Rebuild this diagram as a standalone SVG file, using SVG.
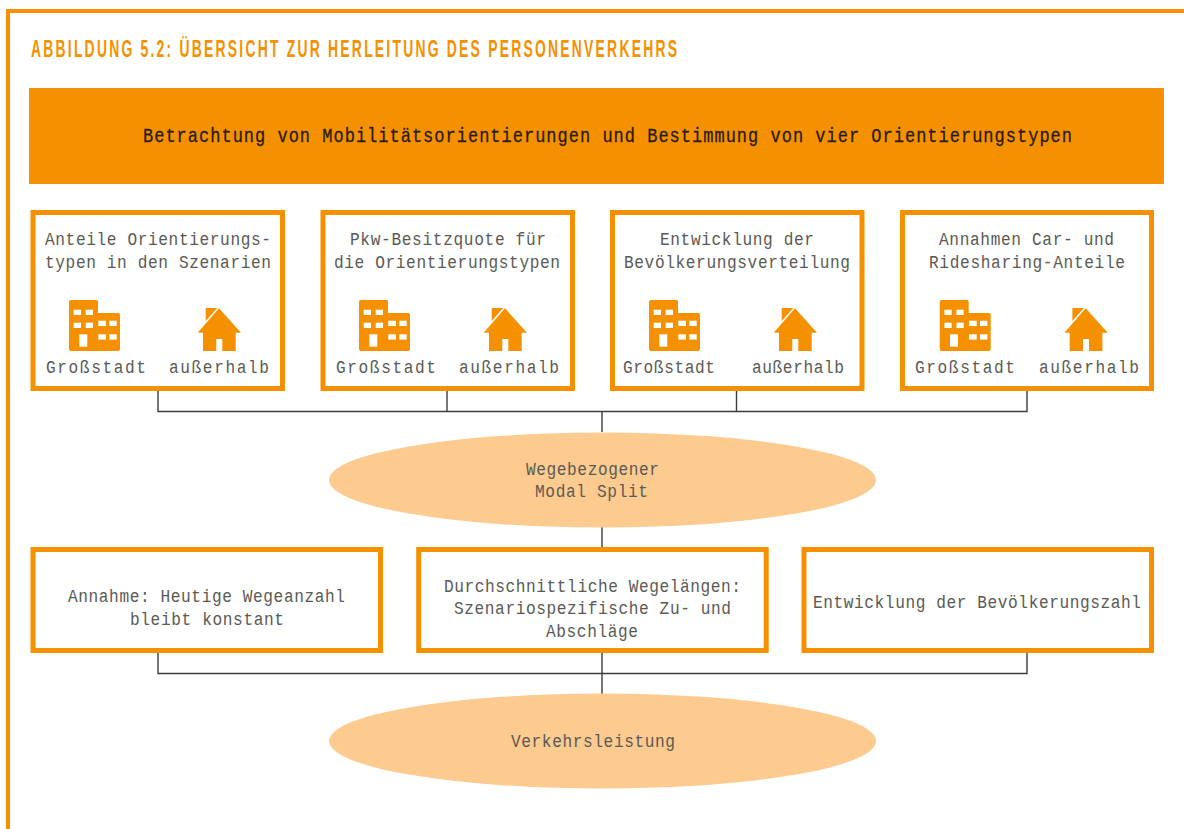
<svg xmlns="http://www.w3.org/2000/svg" width="1184" height="829" viewBox="0 0 1184 829">
<style>
.box{fill:#fff;stroke:#f59100;stroke-width:5}
.ell{fill:#fdcb8f}
.t{font-family:"Liberation Mono",monospace;font-size:19px;fill:#5a5a54;transform:scale(.85,1)}
.b{font-family:"Liberation Mono",monospace;font-size:20px;fill:#2a1c08;stroke:#2a1c08;stroke-width:.3;transform:scale(.85,1)}
.title{font-family:"Liberation Sans",Arial,sans-serif;font-size:24px;font-weight:700;fill:#f59100;transform:scale(.58,1)}
.c{fill:none;stroke:#3c3c3c;stroke-width:1.4}
.o{fill:#f59100}
</style>
<defs>
<g id="city"><path class="o" d="M71 300H96.500Q98 300 98 302V313H118.500Q120 313 120 315V349Q120 351 118 351H71Q69 351 69 349V302Q69 300 71 300Z"/>
<g fill="#fff"><rect x="73.700" y="309.700" width="7.300" height="5.300"/><rect x="85.700" y="309.700" width="7.300" height="5.300"/><rect x="73.700" y="322.700" width="7.300" height="5.300"/><rect x="85.700" y="322.700" width="7.300" height="5.300"/><rect x="98.300" y="320.700" width="7.700" height="5.300"/><rect x="109.300" y="320.700" width="7.400" height="5.300"/><rect x="98.300" y="334.300" width="7.700" height="5.300"/><rect x="109.300" y="334.300" width="7.400" height="5.300"/><rect x="79.300" y="334.300" width="8" height="12.400"/></g></g>
<g id="house"><path class="o" d="M205.700 308H217.300L205.700 321ZM219 308.300L241 332.700H235.700V351H222.300V339H216.300V351H203V332.700H197.700Z"/></g>
</defs>
<g id="frame"><path d="M8 829V11H1184" fill="none" stroke="#f59100" stroke-width="4"/></g>
<text id="title" class="title" x="53.450" y="57" textLength="1113.800">ABBILDUNG 5.2: ÜBERSICHT ZUR HERLEITUNG DES PERSONENVERKEHRS</text>
<g id="connectors">
<path class="c" d="M158 391V411.500H1027V391M447 391V411.500M736.500 391V411.500M602 411.500V432M602 527V548"/>
<path class="c" d="M158 653V673.500H1027V653M602 653V694"/>
</g>
<g id="banner"><rect class="o" x="29" y="88" width="1135" height="96"/><text class="b" x="168.240" y="142.300" textLength="1092.940">Betrachtung von Mobilitätsorientierungen und Bestimmung von vier Orientierungstypen</text></g>
<g id="n1"><rect class="box" x="33" y="212.500" width="249.500" height="176"/><text class="t" x="52.940" y="244.700" textLength="265.880">Anteile Orientierungs-</text><text class="t" x="52.940" y="268" textLength="265.880">typen in den Szenarien</text><use href="#city"/><use href="#house"/><text class="t" x="54.120" y="372.800" textLength="117.650">Großstadt</text><text class="t" x="198.820" y="372.800" textLength="117.650">außerhalb</text></g>
<g id="n2"><rect class="box" x="323" y="212.500" width="249.500" height="176"/><text class="t" x="411.760" y="244.700" textLength="230.590">Pkw-Besitzquote für</text><text class="t" x="392.940" y="268" textLength="265.880">die Orientierungstypen</text><use href="#city" x="290"/><use href="#house" x="286"/><text class="t" x="395.290" y="372.800" textLength="117.650">Großstadt</text><text class="t" x="540" y="372.800" textLength="117.650">außerhalb</text></g>
<g id="n3"><rect class="box" x="612.500" y="212.500" width="249.500" height="176"/><text class="t" x="776.470" y="244.700" textLength="181.180">Entwicklung der</text><text class="t" x="734.120" y="268" textLength="265.880">Bevölkerungsverteilung</text><use href="#city" x="580"/><use href="#house" x="576"/><text class="t" x="732.940" y="372.800" textLength="108.240">Großstadt</text><text class="t" x="884.710" y="372.800" textLength="108.240">außerhalb</text></g>
<g id="n4"><rect class="box" x="902.500" y="212.500" width="249" height="176"/><text class="t" x="1104.710" y="244.700" textLength="205.880">Annahmen Car- und</text><text class="t" x="1092.940" y="268" textLength="230.590">Ridesharing-Anteile</text><use href="#city" x="870.700"/><use href="#house" x="866.700"/><text class="t" x="1076.470" y="372.800" textLength="117.650">Großstadt</text><text class="t" x="1222.350" y="372.800" textLength="117.650">außerhalb</text></g>
<g id="e1"><ellipse class="ell" cx="602.500" cy="480" rx="273.500" ry="47.500"/><text class="t" x="618.820" y="475.500" textLength="156.470">Wegebezogener</text><text class="t" x="629.410" y="497.500" textLength="132.940">Modal Split</text></g>
<g id="n5"><rect class="box" x="33" y="549.500" width="347.500" height="101"/><text class="t" x="80" y="602.500" textLength="325.880">Annahme: Heutige Wegeanzahl</text><text class="t" x="152.940" y="625.500" textLength="181.180">bleibt konstant</text></g>
<g id="n6"><rect class="box" x="418.700" y="549.500" width="347.500" height="101"/><text class="t" x="522.350" y="591.700" textLength="349.410">Durchschnittliche Wegelängen:</text><text class="t" x="534.120" y="614" textLength="325.880">Szenariospezifische Zu- und</text><text class="t" x="642.350" y="636.700" textLength="108.240">Abschläge</text></g>
<g id="n7"><rect class="box" x="804" y="549.500" width="347.500" height="101"/><text class="t" x="956.470" y="608.500" textLength="385.880">Entwicklung der Bevölkerungszahl</text></g>
<g id="e2"><ellipse class="ell" cx="602.500" cy="741" rx="273.500" ry="47.500"/><text class="t" x="601.180" y="747.500" textLength="192.940">Verkehrsleistung</text></g>
</svg>
